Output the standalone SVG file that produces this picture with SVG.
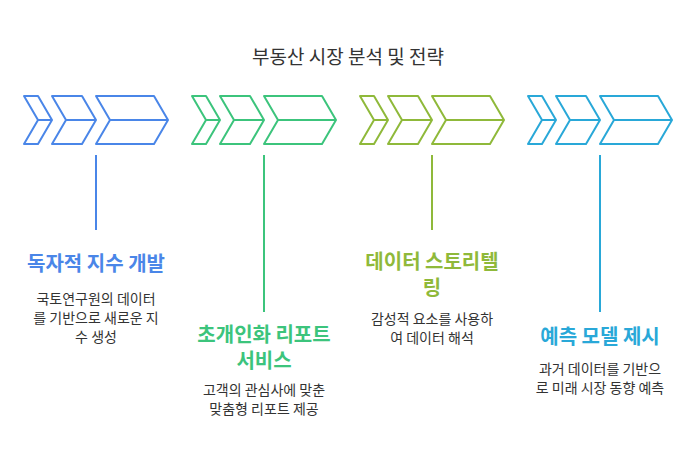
<svg xmlns="http://www.w3.org/2000/svg" width="696" height="468" viewBox="0 0 696 468">
<style>
text{font-family:"Noto Sans CJK KR","Noto Sans",sans-serif}
.t{font-size:20px;font-weight:bold;text-anchor:middle}
.d{font-size:14px;fill:#333;text-anchor:middle}
.c{fill:none;stroke-width:2;stroke-linejoin:round}
</style>
<defs>
<g id="ch">
<path d="M24,96H38L52,120L38,144H24L38,120ZM38,120H52"/>
<path d="M52,96H82L96,120L82,144H52L66,120ZM66,120H96"/>
<path d="M96,96H154L168,120L154,144H96L110,120ZM110,120H168"/>
</g>
</defs>
<rect width="696" height="468" fill="#fff"/>
<text x="348" y="64" font-size="19" text-anchor="middle" fill="#333">부동산 시장 분석 및 전략</text>
<g id="connectors" stroke-width="2">
<line x1="96" y1="155" x2="96" y2="230" stroke="#4a86e8"/>
<line x1="264" y1="155" x2="264" y2="312" stroke="#3cc47c"/>
<line x1="432" y1="155" x2="432" y2="230" stroke="#8fb93a"/>
<line x1="600" y1="155" x2="600" y2="312" stroke="#29a8d8"/>
</g>
<g id="n1"><use href="#ch" class="c" stroke="#4a86e8"/>
<text class="t" x="96" y="271" fill="#4a86e8">독자적 지수 개발</text>
<text class="d" x="96" y="304">국토연구원의 데이터</text><text class="d" x="96" y="323">를 기반으로 새로운 지</text><text class="d" x="96" y="342">수 생성</text></g>
<g id="n2"><use href="#ch" class="c" stroke="#3cc47c" x="168"/>
<text class="t" x="264" y="342" fill="#3cc47c">초개인화 리포트</text><text class="t" x="264" y="368" fill="#3cc47c">서비스</text>
<text class="d" x="264" y="395">고객의 관심사에 맞춘</text><text class="d" x="264" y="414">맞춤형 리포트 제공</text></g>
<g id="n3"><use href="#ch" class="c" stroke="#8fb93a" x="336"/>
<text class="t" x="432" y="269" fill="#8fb93a">데이터 스토리텔</text><text class="t" x="432" y="295" fill="#8fb93a">링</text>
<text class="d" x="432" y="324">감성적 요소를 사용하</text><text class="d" x="432" y="343">여 데이터 해석</text></g>
<g id="n4"><use href="#ch" class="c" stroke="#29a8d8" x="504"/>
<text class="t" x="600" y="344" fill="#29a8d8">예측 모델 제시</text>
<text class="d" x="600" y="374">과거 데이터를 기반으</text><text class="d" x="600" y="393">로 미래 시장 동향 예측</text></g>
</svg>
